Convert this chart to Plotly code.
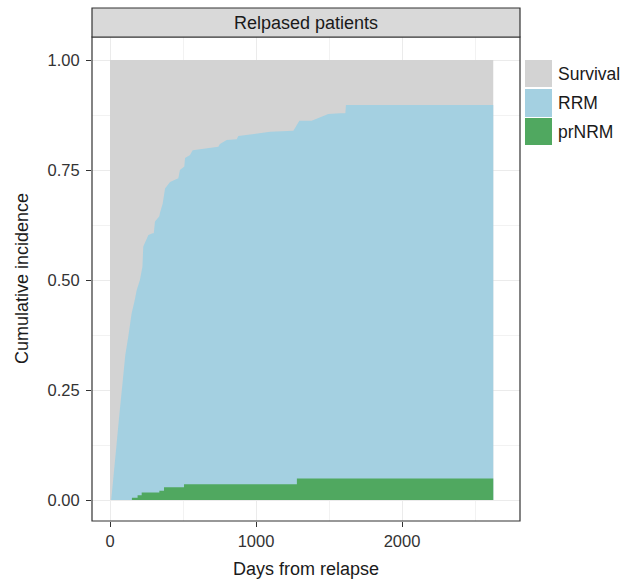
import plotly.graph_objects as go

# ---- data ----
legend_labels = ["Survival", "RRM", "prNRM"]
panel_title = "Relpased patients"
x_title = "Days from relapse"
y_title = "Cumulative incidence"

# total cumulative incidence (RRM + prNRM stacked top edge)
days_total = [0, 8, 20, 30, 46, 60, 75, 91, 105, 125, 148, 170, 183, 205, 222, 228, 263, 292, 300,
              308, 338, 342, 361, 377, 411, 468, 479, 509, 514, 548, 566, 742, 753, 799, 868,
              879, 1096, 1256, 1297, 1381, 1495, 1575, 1612, 1616, 2625]
cum_total = [0.0, 0.0, 0.04, 0.07, 0.13, 0.18, 0.23, 0.288, 0.33, 0.371, 0.424, 0.455, 0.477, 0.50,
             0.53, 0.576, 0.602, 0.606, 0.606, 0.633, 0.645, 0.652, 0.674, 0.708, 0.723, 0.731, 0.75,
             0.758, 0.777, 0.784, 0.795, 0.803, 0.809, 0.818, 0.82, 0.827, 0.837, 0.839,
             0.862, 0.862, 0.877, 0.879, 0.879, 0.898, 0.898]

# prNRM cumulative incidence (step function)
days_nrm = [0, 150, 189, 217, 338, 370, 507, 1280, 2625]
cum_nrm = [0.0, 0.005, 0.011, 0.017, 0.021, 0.029, 0.036, 0.049, 0.049]

survival_days = [0, 2625]
survival_top = [1.0, 1.0]

col_surv = "#d3d3d3"
col_rrm = "#a4d0e1"
col_nrm = "#50a860"

fig = go.Figure()
fig.add_trace(go.Scatter(x=survival_days, y=survival_top, mode="lines", line=dict(width=0, color=col_surv),
                         fill="tozeroy", fillcolor=col_surv, name=legend_labels[0], hoverinfo="skip"))
fig.add_trace(go.Scatter(x=days_total, y=cum_total, mode="lines", line=dict(width=0, color=col_rrm),
                         fill="tozeroy", fillcolor=col_rrm, name=legend_labels[1]))
fig.add_trace(go.Scatter(x=days_nrm, y=cum_nrm, mode="lines", line=dict(width=0, color=col_nrm, shape="hv"),
                         fill="tozeroy", fillcolor=col_nrm, name=legend_labels[2]))

W, H = 638, 581
L, R, T, B = 92, 520, 37, 521

def px(xp):
    return (xp - L) / (R - L)

def py(yp):
    return (B - yp) / (B - T)

font_family = "Liberation Sans, Arial, sans-serif"
txt = "#1a1a1a"

shapes = []
annotations = []
# panel border
shapes.append(dict(type="rect", xref="paper", yref="paper", x0=0, x1=1, y0=0, y1=1,
                   line=dict(color="#333333", width=1.2), fillcolor="rgba(0,0,0,0)", layer="above"))
# strip
shapes.append(dict(type="rect", xref="paper", yref="paper", x0=0, x1=1, y0=1, y1=py(8),
                   line=dict(color="#333333", width=1.2), fillcolor="#d9d9d9"))
annotations.append(dict(xref="paper", yref="paper", x=0.5, y=py(22.5), text=panel_title, showarrow=False,
                        font=dict(size=18, color=txt, family=font_family), xanchor="center", yanchor="middle"))

# axis titles
annotations.append(dict(xref="paper", yref="paper", x=0.5, y=py(569), text=x_title, showarrow=False,
                        font=dict(size=18, color=txt, family=font_family), xanchor="center", yanchor="middle"))
annotations.append(dict(xref="paper", yref="paper", x=px(22), y=py(279), text=y_title, showarrow=False,
                        textangle=-90, font=dict(size=18, color=txt, family=font_family),
                        xanchor="center", yanchor="middle"))

# manual legend
key_rows = [(60, 87), (89, 117), (118, 145)]
key_cols = [col_surv, col_rrm, col_nrm]
for (y0, y1), c, lab in zip(key_rows, key_cols, legend_labels):
    shapes.append(dict(type="rect", xref="paper", yref="paper", x0=px(525), x1=px(552),
                       y0=py(y1), y1=py(y0), line=dict(width=0), fillcolor=c))
    annotations.append(dict(xref="paper", yref="paper", x=px(556), y=py((y0 + y1) / 2), text=lab,
                            showarrow=False, xanchor="left", yanchor="middle",
                            font=dict(size=17.5, color=txt, family=font_family)))

fig.update_layout(
    width=W, height=H,
    margin=dict(l=L, r=W - R, t=T, b=H - B, pad=0),
    paper_bgcolor="white", plot_bgcolor="white",
    showlegend=False,
    font=dict(family=font_family, size=16, color=txt),
    shapes=shapes, annotations=annotations,
    xaxis=dict(range=[(92 - 110) / 0.146, (520 - 110) / 0.146], tickvals=[0, 1000, 2000],
               ticktext=["0", "1000", "2000"], showgrid=True, gridcolor="#ebebeb", gridwidth=1.1,
               minor=dict(tickvals=[500, 1500, 2500], showgrid=True, gridcolor="#f2f2f2", gridwidth=0.6, ticks=""),
               ticks="outside", ticklen=5, tickcolor="#333333", tickwidth=1.1,
               tickfont=dict(size=16.5, color="#333333"), zeroline=False, showline=False,
               layer="below traces"),
    yaxis=dict(range=[(500 - 521) / 440, (500 - 37) / 440], tickvals=[0, 0.25, 0.5, 0.75, 1.0],
               ticktext=["0.00", "0.25", "0.50", "0.75", "1.00"], showgrid=True, gridcolor="#ebebeb", gridwidth=1.1,
               minor=dict(tickvals=[0.125, 0.375, 0.625, 0.875], showgrid=True, gridcolor="#f2f2f2", gridwidth=0.6, ticks=""),
               ticks="outside", ticklen=5, tickcolor="#333333", tickwidth=1.1,
               tickfont=dict(size=16.5, color="#333333"), zeroline=False, showline=False,
               ticklabelstandoff=3,
               layer="below traces"),
)

fig.write_html("out.html")
